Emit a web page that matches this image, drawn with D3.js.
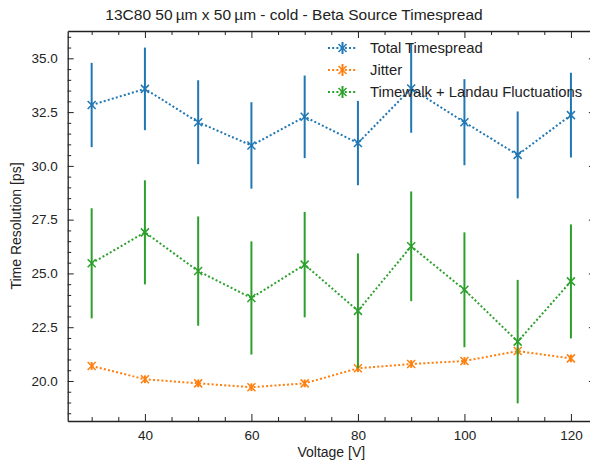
<!DOCTYPE html>
<meta charset="utf-8">
<style>
body { margin: 0; background: #fff; }
svg { display: block; font-family: "Liberation Sans", Arial, sans-serif; }
.tick text { fill: #222; font-size: 13.5px; }
.domain { stroke: #222; }
.tick line { stroke: #222; stroke-width: 1; }
.label { fill: #222; font-size: 14px; text-anchor: middle; }
</style>
<svg width="590" height="464"></svg>
<script src="https://cdn.jsdelivr.net/npm/d3@7"></script>
<script>

// data
var voltage = [30, 40, 50, 60, 70, 80, 90, 100, 110, 120];
var totalTimespread = [32.83, 33.58, 32.03, 30.95, 32.28, 31.06, 33.6, 32.03, 30.51, 32.36];
var totalErr = [1.96, 1.92, 1.95, 2.01, 1.92, 1.96, 2.06, 2.0, 2.02, 1.97];
var jitter = [20.70, 20.08, 19.89, 19.71, 19.89, 20.59, 20.79, 20.93, 21.39, 21.05];
var jitterErr = [0.18, 0.18, 0.18, 0.18, 0.18, 0.18, 0.18, 0.18, 0.18, 0.18];
var timewalk = [25.47, 26.91, 25.11, 23.86, 25.41, 23.26, 26.26, 24.24, 21.83, 24.63];
var timewalkErr = [2.56, 2.42, 2.54, 2.63, 2.45, 2.67, 2.55, 2.67, 2.87, 2.65];
var seriesNames = ["Total Timespread", "Jitter", "Timewalk + Landau Fluctuations"];
var colors = ["#1f77b4", "#ff7f0e", "#2ca02c"];
var xTicks = [40, 60, 80, 100, 120];
var yTicks = [20.0, 22.5, 25.0, 27.5, 30.0, 32.5, 35.0];

var series = [
  {name: seriesNames[0], values: totalTimespread, err: totalErr, color: colors[0]},
  {name: seriesNames[1], values: jitter, err: jitterErr, color: colors[1]},
  {name: seriesNames[2], values: timewalk, err: timewalkErr, color: colors[2]}
];

var svg = d3.select("svg"),
    pLeft = 67.7, pRight = 594.9, pTop = 31, pBottom = 421;

var x = d3.scaleLinear().domain([25.5, 124.5]).range([pLeft, pRight]),
    y = d3.scaleLinear().domain([18.14, 36.27]).range([pBottom, pTop]);

var xMinor = d3.range(30, 125, 5).filter(function(d) { return d % 20 != 0; }),
    yMinor = d3.range(18.5, 36.3, 0.5).filter(function(d) { return Math.abs(d / 2.5 - Math.round(d / 2.5)) > 0.01; });

// bottom
var gx = svg.append("g").attr("transform", "translate(0," + pBottom + ")")
    .call(d3.axisBottom(x).tickValues(xTicks).tickSizeInner(-7).tickSizeOuter(0).tickPadding(9).tickFormat(d3.format("d")));
gx.append("g").call(d3.axisBottom(x).tickValues(xMinor).tickSize(-4).tickFormat(""));
// top
var gxt = svg.append("g").attr("transform", "translate(0," + pTop + ")")
    .call(d3.axisTop(x).tickValues(xTicks).tickSizeInner(-7).tickSizeOuter(0).tickFormat(""));
gxt.append("g").call(d3.axisTop(x).tickValues(xMinor).tickSize(-4).tickFormat(""));
// left
var gy = svg.append("g").attr("transform", "translate(" + pLeft + ",0)")
    .call(d3.axisLeft(y).tickValues(yTicks).tickSizeInner(-6).tickSizeOuter(0).tickPadding(10).tickFormat(d3.format(".1f")));
gy.append("g").call(d3.axisLeft(y).tickValues(yMinor).tickSize(-3.5).tickFormat(""));
// right
var gyr = svg.append("g").attr("transform", "translate(" + pRight + ",0)")
    .call(d3.axisRight(y).tickValues(yTicks).tickSizeInner(-6).tickSizeOuter(0).tickFormat(""));
gyr.append("g").call(d3.axisRight(y).tickValues(yMinor).tickSize(-3.5).tickFormat(""));

svg.selectAll("g g .domain").remove();
svg.selectAll(".domain").attr("stroke-width", 1.3);

// series
var line = d3.line()
    .x(function(d, i) { return x(voltage[i]); })
    .y(function(d) { return y(d); });

function xMark(g, cx, cy, color) {
  var r = 4;
  g.append("path")
      .attr("d", "M" + (cx - r) + "," + (cy - r) + "L" + (cx + r) + "," + (cy + r) +
                 "M" + (cx - r) + "," + (cy + r) + "L" + (cx + r) + "," + (cy - r))
      .attr("stroke", color).attr("stroke-width", 1.5).attr("fill", "none");
}

series.forEach(function(s) {
  var g = svg.append("g");
  g.append("path")
      .datum(s.values)
      .attr("d", line)
      .attr("fill", "none")
      .attr("stroke", s.color)
      .attr("stroke-width", 2)
      .attr("stroke-dasharray", "2,2.2");
  g.selectAll(".err")
    .data(s.values)
    .enter().append("line")
      .attr("x1", function(d, i) { return x(voltage[i]); })
      .attr("x2", function(d, i) { return x(voltage[i]); })
      .attr("y1", function(d, i) { return y(d - s.err[i]); })
      .attr("y2", function(d, i) { return y(d + s.err[i]); })
      .attr("stroke", s.color)
      .attr("stroke-width", 2);
  s.values.forEach(function(d, i) { xMark(g, x(voltage[i]), y(d), s.color); });
});

// legend
var leg = svg.append("g");
series.forEach(function(s, i) {
  var ly = 48 + i * 22;
  leg.append("line")
      .attr("x1", 328).attr("x2", 357).attr("y1", ly).attr("y2", ly)
      .attr("stroke", s.color).attr("stroke-width", 2).attr("stroke-dasharray", "2,2.2");
  leg.append("line")
      .attr("x1", 342.5).attr("x2", 342.5).attr("y1", ly - 6).attr("y2", ly + 6)
      .attr("stroke", s.color).attr("stroke-width", 2);
  xMark(leg, 342.5, ly, s.color);
  leg.append("text")
      .attr("x", 370).attr("y", ly + 5)
      .attr("fill", "#222")
      .style("font-size", "14.8px")
      .text(s.name);
});

// labels
svg.append("text").attr("class", "label")
    .attr("x", 294).attr("y", 20)
    .style("font-size", "15.5px")
    .text("13C80 50\u2009\u00b5m x 50\u2009\u00b5m - cold - Beta Source Timespread");

svg.append("text").attr("class", "label")
    .attr("x", (pLeft + pRight) / 2).attr("y", 457)
    .text("Voltage [V]");

svg.append("text").attr("class", "label")
    .attr("transform", "translate(21," + ((pTop + pBottom) / 2) + ") rotate(-90)")
    .text("Time Resolution [ps]");

</script>
